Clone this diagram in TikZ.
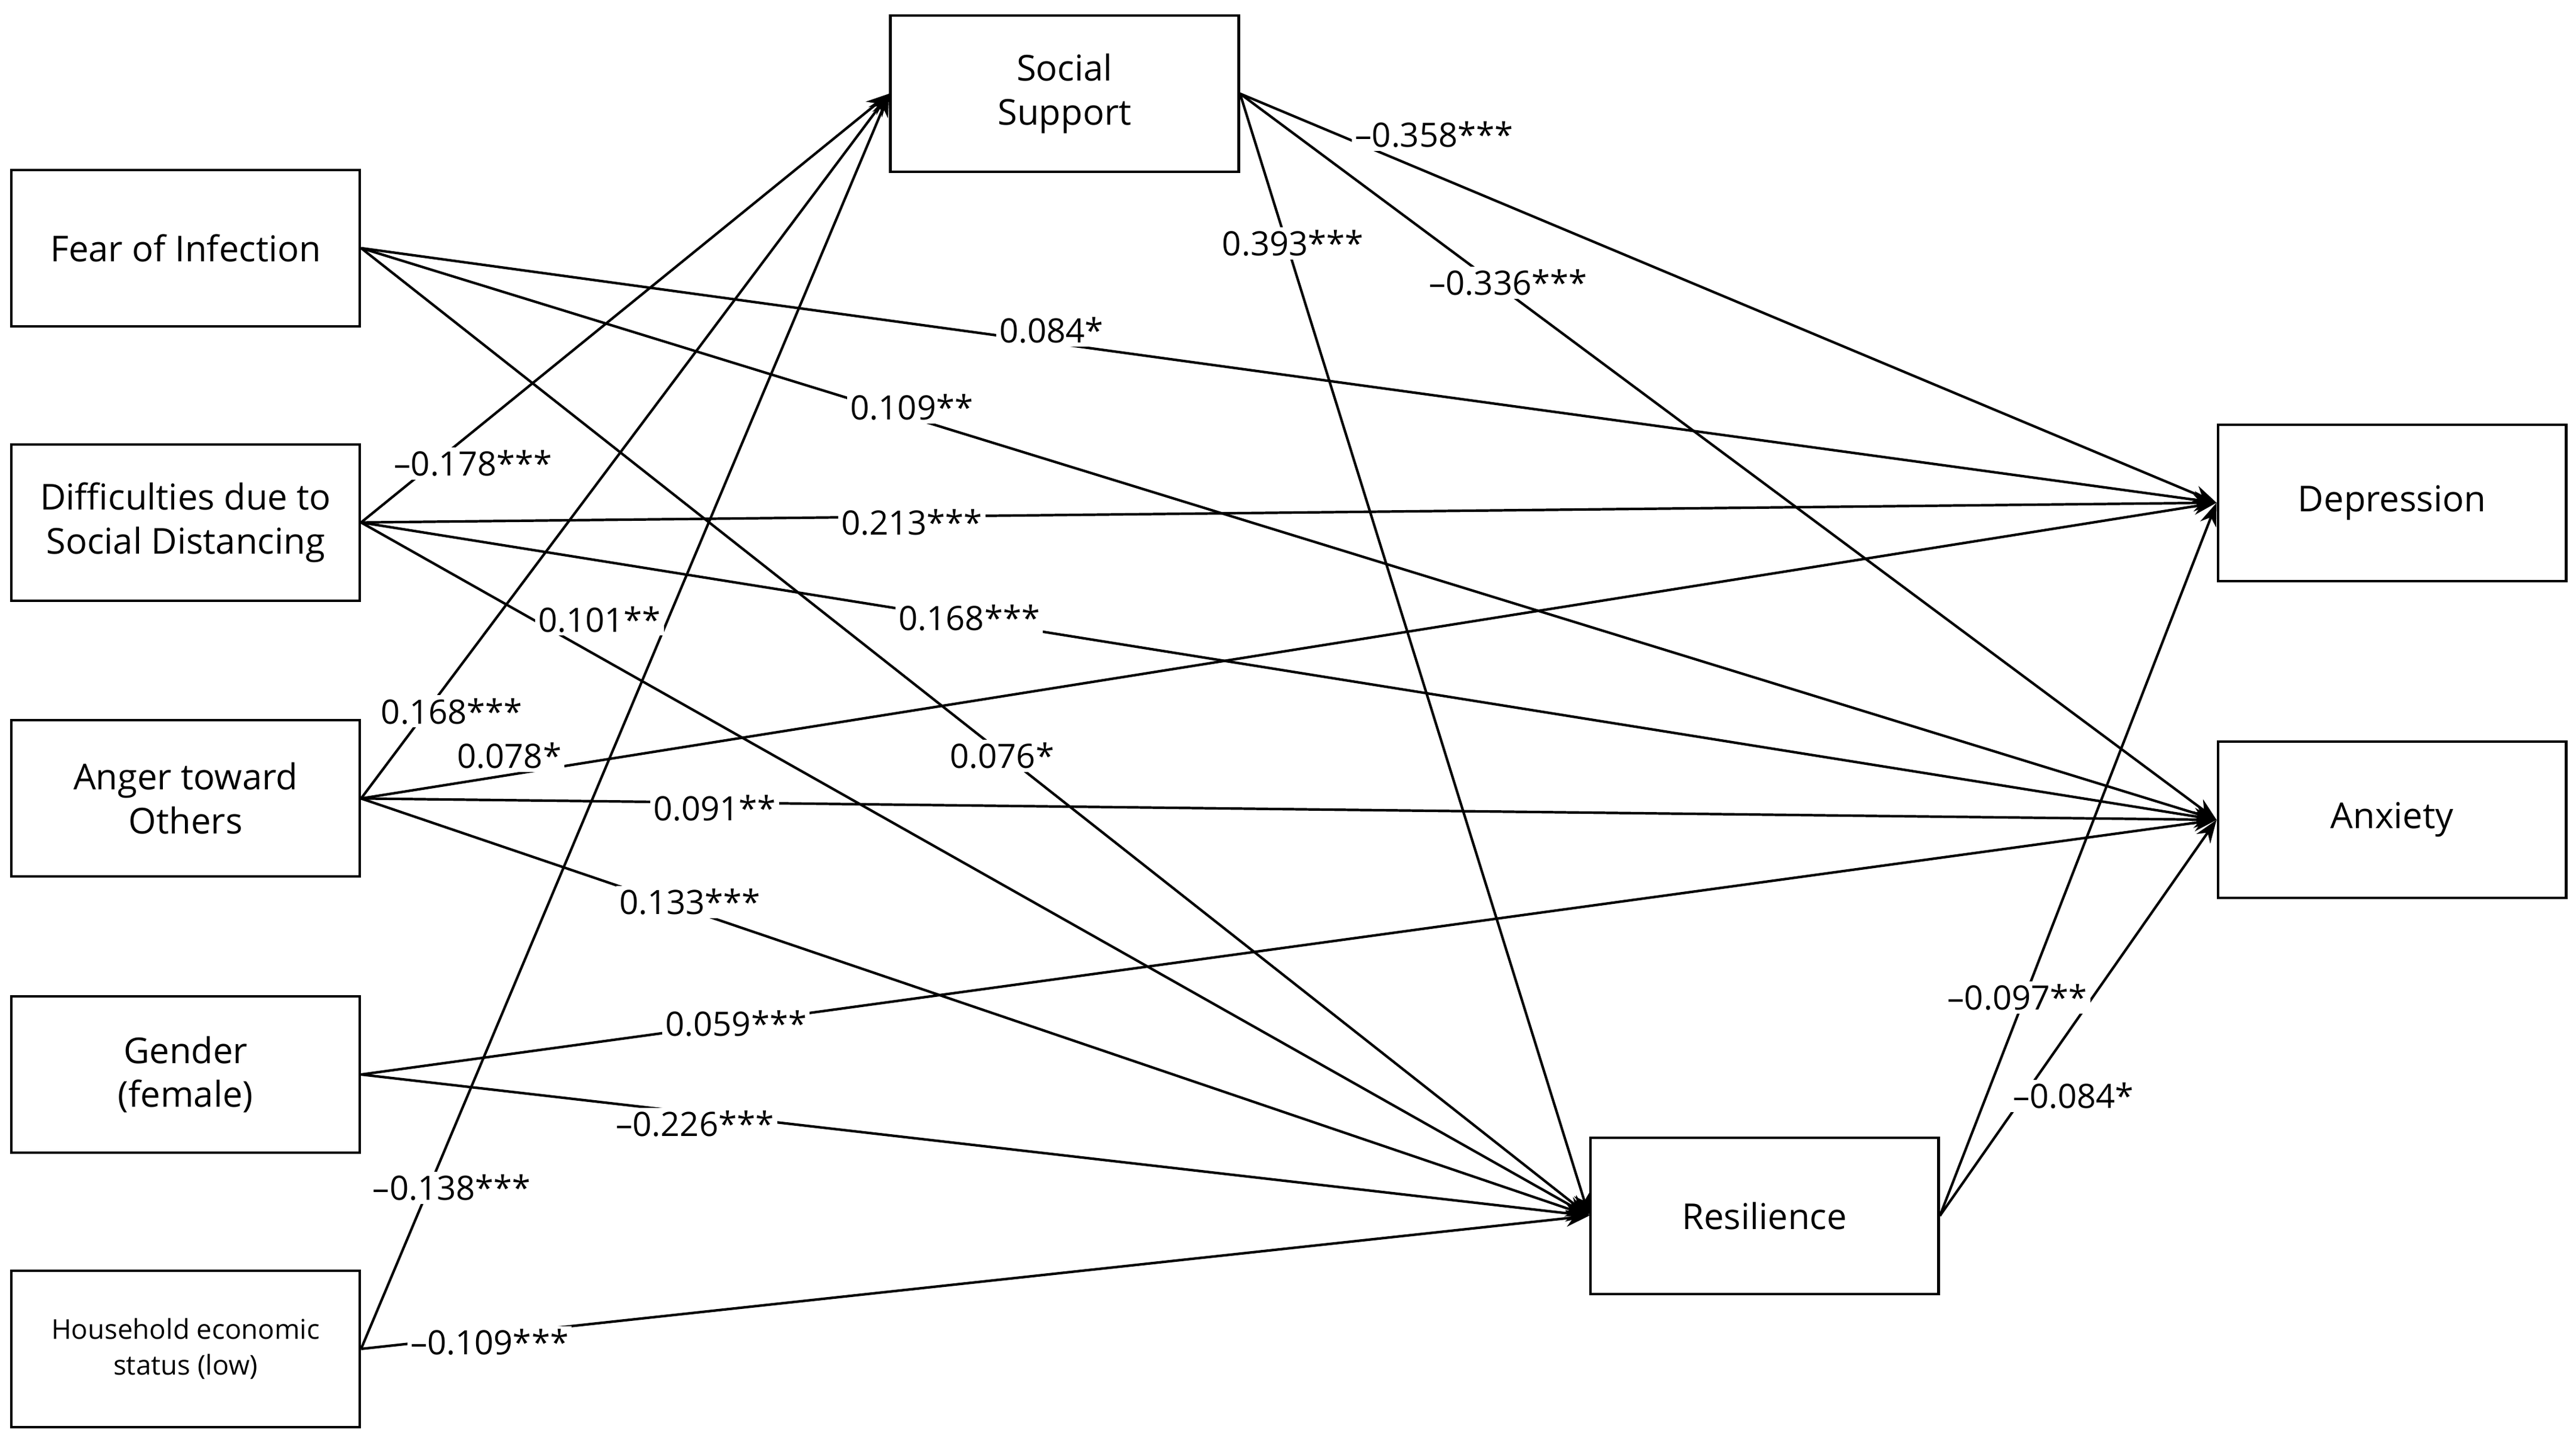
\documentclass[tikz,border=0pt]{standalone}
\usepackage{fontspec}
\setmainfont{Open Sans}
\usetikzlibrary{arrows.meta}
\begin{document}
\begin{tikzpicture}[x=0.02754cm,y=-0.02754cm,
 box/.style={draw,line width=1.2pt,minimum width=5.84cm,minimum height=2.62cm,align=center,font=\fontsize{17}{21}\selectfont,inner sep=2pt},
 e/.style={line width=1.2pt,-{Stealth[length=11pt,width=8pt]}},
 lab/.style={fill=white,inner sep=1.5pt,font=\fontsize{16}{19}\selectfont}]
\useasboundingbox (0,0) rectangle (1568,881);
\node[box] (F) at (113,151) {Fear of Infection};
\node[box] (D) at (113,318) {Difficulties due to\\Social Distancing};
\node[box] (A) at (113,486) {Anger toward\\Others};
\node[box] (G) at (113,654) {Gender\\(female)};
\node[box,font=\fontsize{13}{17}\selectfont] (H) at (113,821) {Household economic\\status (low)};
\node[box] (S) at (648,57) {Social\\Support};
\node[box] (Dep) at (1456,306) {Depression};
\node[box] (Anx) at (1456,499) {Anxiety};
\node[box] (R) at (1074,740) {Resilience};
\draw[e] (F.east) -- (Dep.west);
\draw[e] (F.east) -- (Anx.west);
\draw[e] (F.east) -- (R.west);
\draw[e] (D.east) -- (S.west);
\draw[e] (D.east) -- (Dep.west);
\draw[e] (D.east) -- (Anx.west);
\draw[e] (D.east) -- (R.west);
\draw[e] (A.east) -- (S.west);
\draw[e] (A.east) -- (Dep.west);
\draw[e] (A.east) -- (Anx.west);
\draw[e] (A.east) -- (R.west);
\draw[e] (G.east) -- (Anx.west);
\draw[e] (G.east) -- (R.west);
\draw[e] (H.east) -- (S.west);
\draw[e] (H.east) -- (R.west);
\draw[e] (S.east) -- (Dep.west);
\draw[e] (S.east) -- (Anx.west);
\draw[e] (S.east) -- (R.west);
\draw[e] (R.east) -- (Dep.west);
\draw[e] (R.east) -- (Anx.west);
\node[lab] (l1) at (873,82) {–0.358***};
\node[lab] (l2) at (918,172) {–0.336***};
\node[lab] (l3) at (787,148) {0.393***};
\node[lab] (l4) at (640,201) {0.084*};
\node[lab] (l5) at (555,248) {0.109**};
\node[lab] (l6) at (288,282) {–0.178***};
\node[lab] (l7) at (555,318) {0.213***};
\node[lab] (l8) at (590,376) {0.168***};
\node[lab] (l9) at (365,377) {0.101**};
\node[lab] (l10) at (275,433) {0.168***};
\node[lab] (l11) at (310,460) {0.078*};
\node[lab] (l12) at (610,460) {0.076*};
\node[lab] (l13) at (435,492) {0.091**};
\node[lab] (l14) at (420,549) {0.133***};
\node[lab] (l15) at (448,623) {0.059***};
\node[lab] (l16) at (423,684) {–0.226***};
\node[lab] (l17) at (275,723) {–0.138***};
\node[lab] (l18) at (298,817) {–0.109***};
\node[lab] (l19) at (1228,607) {–0.097**};
\node[lab] (l20) at (1262,667) {–0.084*};
\end{tikzpicture}
\end{document}
